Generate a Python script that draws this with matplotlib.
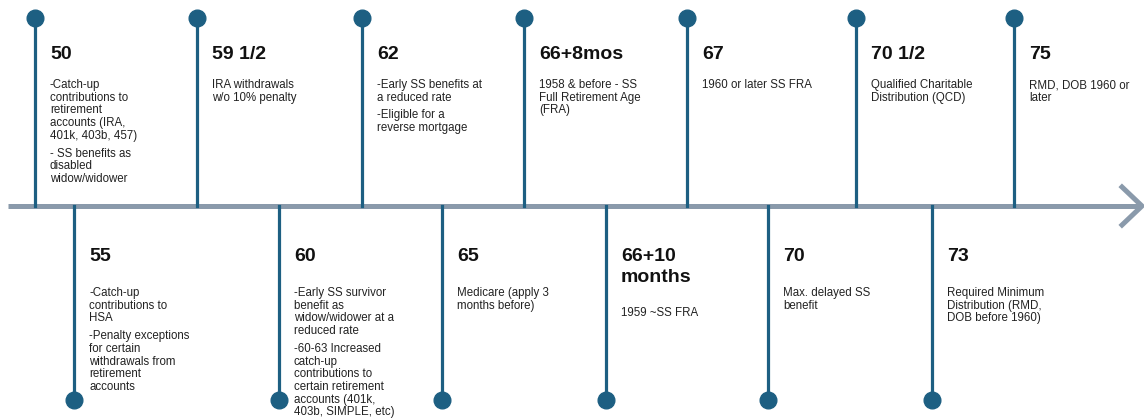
import matplotlib.pyplot as plt

# timeline events, in order along the line
ages = ["50", "55", "59 1/2", "60", "62", "65", "66+8mos", "66+10\nmonths",
        "67", "70", "70 1/2", "73", "75"]
side = ["top", "bottom", "top", "bottom", "top", "bottom", "top", "bottom",
        "top", "bottom", "top", "bottom", "top"]
notes = [
    ["-Catch-up\ncontributions to\nretirement\naccounts (IRA,\n401k, 403b, 457)",
     "- SS benefits as\ndisabled\nwidow/widower"],
    ["-Catch-up\ncontributions to\nHSA",
     "-Penalty exceptions\nfor certain\nwithdrawals from\nretirement\naccounts"],
    ["IRA withdrawals\nw/o 10% penalty"],
    ["-Early SS survivor\nbenefit as\nwidow/widower at a\nreduced rate",
     "-60-63 Increased\ncatch-up\ncontributions to\ncertain retirement\naccounts (401k,\n403b, SIMPLE, etc)"],
    ["-Early SS benefits at\na reduced rate", "-Eligible for a\nreverse mortgage"],
    ["Medicare (apply 3\nmonths before)"],
    ["1958 & before - SS\nFull Retirement Age\n(FRA)"],
    ["1959 ~SS FRA"],
    ["1960 or later SS FRA"],
    ["Max. delayed SS\nbenefit"],
    ["Qualified Charitable\nDistribution (QCD)"],
    ["Required Minimum\nDistribution (RMD,\nDOB before 1960)"],
    ["RMD, DOB 1960 or\nlater"],
]

# layout (pixel coords)
xpos = [35, 74, 197, 279, 362, 442, 524, 606, 687, 768, 856, 932, 1014]
axis_y = 206
stem_col = "#1d5f82"
line_col = "#8a9aab"

fig = plt.figure(figsize=(11.44, 4.19), dpi=100)
ax = fig.add_axes([0, 0, 1, 1])
ax.set_xlim(0, 1144)
ax.set_ylim(419, 0)
ax.axis("off")

# main line + arrow head
ax.plot([8, 1141], [axis_y, axis_y], color=line_col, lw=3.6, solid_capstyle="butt", zorder=1)
ax.plot([1122, 1142, 1122], [187, axis_y, 225], color=line_col, lw=3.6, zorder=1)

line_h = 12.7
for x, age, s, paras in zip(xpos, ages, side, notes):
    if s == "top":
        end, head_y, txt_y = 18, 46, 79
    else:
        end, head_y, txt_y = 400, 248, 287
    ax.plot([x, x], [axis_y, end], color=stem_col, lw=2.3, zorder=2)
    ax.plot(x, end, "o", color=stem_col, ms=12, zorder=3)
    tx = x + 15
    nhead = age.count("\n")
    ax.text(tx, head_y, age, fontsize=14, fontweight="bold", family="Liberation Sans",
            va="top", ha="left", color="#111111", linespacing=1.3)
    y = txt_y + nhead * 20
    for p in paras:
        ax.text(tx, y, p, fontsize=8.3, family="Liberation Sans", va="top", ha="left",
                color="#222222", linespacing=1.08)
        y += (p.count("\n") + 1) * line_h + 5

fig.savefig("out.png", dpi=100)
